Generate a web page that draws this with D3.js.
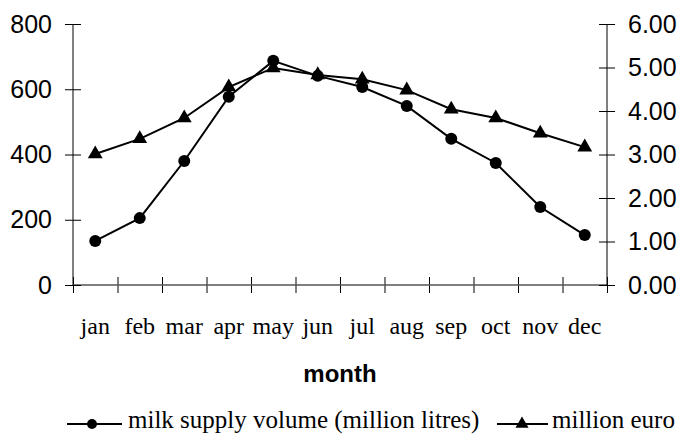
<!DOCTYPE html>
<html><head><meta charset="utf-8">
<script src="https://cdn.jsdelivr.net/npm/d3@7"></script>
<style>body{margin:0;background:#fff}svg{display:block}</style>
</head><body>
<svg id="c" width="681" height="441"></svg>
<script>
const months = ["jan","feb","mar","apr","may","jun","jul","aug","sep","oct","nov","dec"];
const milkVolume = [135,205,380,577,687,641,607,549,448,374,239,153];
const millionEuro = [3.01,3.36,3.84,4.55,4.99,4.83,4.73,4.48,4.04,3.84,3.49,3.17];
const leftTicks = [0,200,400,600,800];
const rightTicks = [0,1,2,3,4,5,6];
const seriesNames = ["milk supply volume (million litres)","million euro"];
const xTitle = "month";

const svg = d3.select("#c");
const L = 73, R = 607, T = 24, B = 285;
const x = d3.scaleBand().domain(months).range([L,R]).paddingInner(0).paddingOuter(0);
const xi = d3.scaleLinear().domain([0,12]).range([L,R]);
const yL = d3.scaleLinear().domain([0,800]).range([B,T]);
const yR = d3.scaleLinear().domain([0,6]).range([B,T]);
const cx = d => x(d) + x.bandwidth()/2;

// x axis line + cross ticks
const gx = svg.append("g").attr("transform",`translate(0,${B})`);
gx.call(d3.axisBottom(xi).tickValues(d3.range(0,13)).tickSize(8).tickFormat(""));
gx.select(".domain").remove();
gx.append("line").attr("x1",L).attr("x2",R).attr("stroke","#555").attr("stroke-width",1.6);
gx.selectAll(".tick line").attr("y1",-8).attr("y2",8).attr("stroke","#000");

// x labels
const gxl = svg.append("g").attr("transform",`translate(0,${B})`)
  .call(d3.axisBottom(x).tickSize(0).tickPadding(0));
gxl.select(".domain").remove();
gxl.selectAll("text").attr("y",49).attr("dy",0)
  .attr("font-family","'Liberation Serif', serif").attr("font-size",24).attr("fill","#000");

// left axis
const gl = svg.append("g").attr("transform",`translate(${L},0)`)
  .call(d3.axisLeft(yL).tickValues(leftTicks).tickSize(8).tickPadding(13).tickFormat(d3.format("d")));
gl.select(".domain").attr("d",`M0,${T}V${B}`).attr("stroke","#000");
gl.selectAll(".tick line").attr("x1",8).attr("x2",-8);
gl.selectAll("text").attr("font-family","'Liberation Sans', Arial, sans-serif").attr("font-size",25).attr("fill","#000");

// right axis
const gr = svg.append("g").attr("transform",`translate(${R},0)`)
  .call(d3.axisRight(yR).tickValues(rightTicks).tickSize(8).tickPadding(13).tickFormat(d3.format(".2f")));
gr.select(".domain").attr("d",`M0,${T}V${B}`).attr("stroke","#000");
gr.selectAll(".tick line").attr("x1",-8).attr("x2",8);
gr.selectAll("text").attr("font-family","'Liberation Sans', Arial, sans-serif").attr("font-size",25).attr("fill","#000");

// lines
const line1 = d3.line().x((d,i)=>cx(months[i])).y(d=>yL(d));
const line2 = d3.line().x((d,i)=>cx(months[i])).y(d=>yR(d));
svg.append("path").attr("d",line1(milkVolume)).attr("fill","none").attr("stroke","#000").attr("stroke-width",2);
svg.append("path").attr("d",line2(millionEuro)).attr("fill","none").attr("stroke","#000").attr("stroke-width",2);

const tri = d3.symbol().type(d3.symbolTriangle).size(95);
svg.append("g").selectAll("circle").data(milkVolume).join("circle")
  .attr("cx",(d,i)=>cx(months[i])).attr("cy",d=>yL(d)).attr("r",6).attr("fill","#000");
svg.append("g").selectAll("path").data(millionEuro).join("path")
  .attr("d",tri).attr("transform",(d,i)=>`translate(${cx(months[i])},${yR(d)})`).attr("fill","#000");

// x title
svg.append("text").attr("x",340).attr("y",382).attr("text-anchor","middle")
  .attr("font-family","'Liberation Sans', Arial, sans-serif").attr("font-weight","bold").attr("font-size",24)
  .text(xTitle);

// legend
const ly = 424;
const lg = svg.append("g");
lg.append("line").attr("x1",67).attr("x2",122).attr("y1",ly).attr("y2",ly).attr("stroke","#000").attr("stroke-width",2);
lg.append("circle").attr("cx",92).attr("cy",ly).attr("r",5).attr("fill","#000");
lg.append("text").attr("x",128).attr("y",ly+4).attr("font-family","'Liberation Serif', serif").attr("font-size",25).text(seriesNames[0]);
lg.append("line").attr("x1",497).attr("x2",548).attr("y1",ly).attr("y2",ly).attr("stroke","#000").attr("stroke-width",2);
lg.append("path").attr("d",d3.symbol().type(d3.symbolTriangle).size(75)).attr("transform",`translate(522,${ly})`).attr("fill","#000");
lg.append("text").attr("x",552).attr("y",ly+4).attr("font-family","'Liberation Serif', serif").attr("font-size",25).text(seriesNames[1]);
</script>
</body></html>
